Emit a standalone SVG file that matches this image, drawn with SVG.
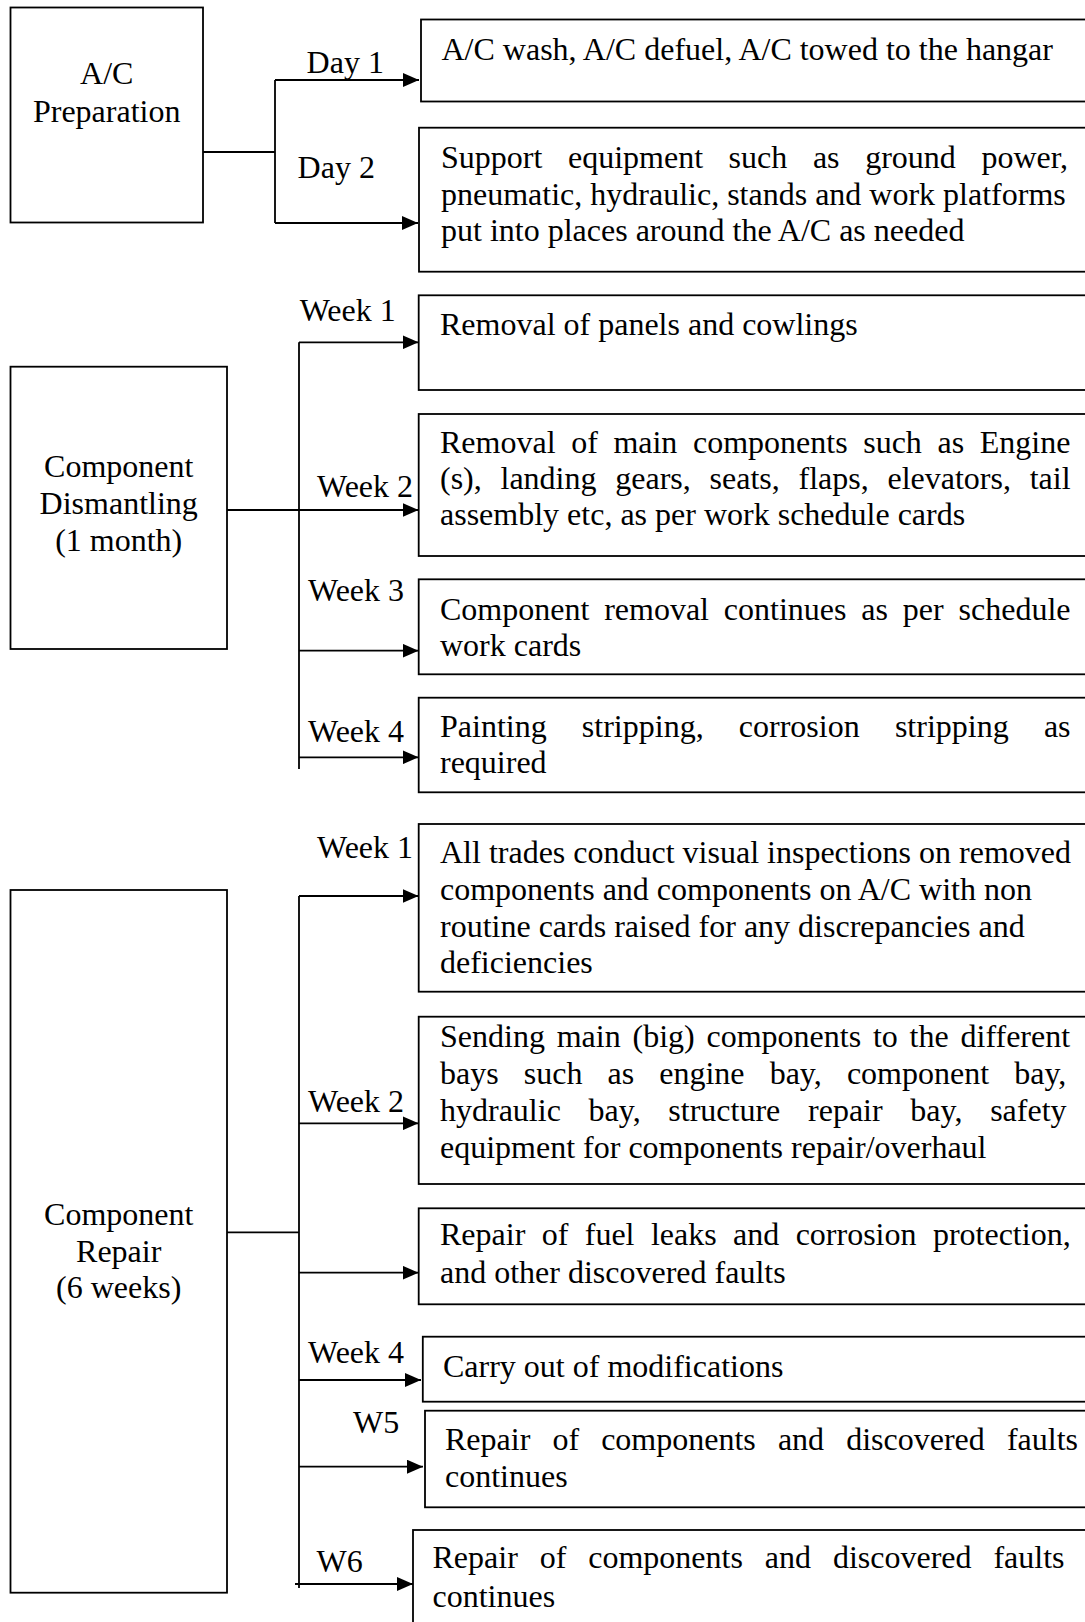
<svg xmlns="http://www.w3.org/2000/svg" width="1085" height="1622" viewBox="0 0 1085 1622">
  <style>
    .box { fill: #fff; stroke: #000; stroke-width: 1.8; }
    .t { font-family: "Liberation Serif", "Times New Roman", serif; font-size: 32px; fill: #000; font-variant-ligatures: none; }
    .mid { text-anchor: middle; }
    .wire { fill: none; stroke: #000; stroke-width: 1.8; }
    .arr { fill: none; stroke: #000; stroke-width: 1.8; marker-end: url(#head); }
  </style>
  <defs>
    <marker id="head" markerUnits="userSpaceOnUse" markerWidth="16" markerHeight="14" refX="16" refY="7" orient="auto">
      <path d="M0,0 L16,7 L0,14 Z" fill="#000"/>
    </marker>
  </defs>
  <rect width="1085" height="1622" fill="#fff"/>

  <!-- connectors -->
  <g id="connectors">
    <!-- A/C preparation fan-out -->
    <path class="wire" d="M203,152 H275 M275,80 V223"/>
    <path class="arr" d="M275,80 H419"/>
    <path class="arr" d="M275,223 H418"/>
    <!-- component dismantling fan-out -->
    <path class="wire" d="M299,342.3 V769"/>
    <path class="arr" d="M227,510 H418.5"/>
    <path class="arr" d="M299,342.3 H418.5"/>
    <path class="arr" d="M299,650.7 H418.5"/>
    <path class="arr" d="M299,757.3 H418.5"/>
    <!-- component repair fan-out -->
    <path class="wire" d="M227,1232.3 H299 M299,896 V1588"/>
    <path class="arr" d="M299,896 H418.5"/>
    <path class="arr" d="M299,1123.3 H418.5"/>
    <path class="arr" d="M299,1272.7 H418.5"/>
    <path class="arr" d="M299,1380 H421"/>
    <path class="arr" d="M299,1466.7 H423"/>
    <path class="arr" d="M295,1584 H413"/>
  </g>

  <!-- phase labels on the branches -->
  <g id="labels" class="t">
    <text x="306.6" y="73">Day 1</text>
    <text x="297.6" y="178">Day 2</text>
    <text x="299.7" y="320.7">Week 1</text>
    <text x="317" y="496.7">Week 2</text>
    <text x="308" y="600.7">Week 3</text>
    <text x="308" y="741.7">Week 4</text>
    <text x="317" y="858.3">Week 1</text>
    <text x="308" y="1111.7">Week 2</text>
    <text x="308" y="1363.3">Week 4</text>
    <text x="353" y="1433.3">W5</text>
    <text x="316.5" y="1571.7">W6</text>
  </g>

  <!-- phase boxes -->
  <g id="ac-preparation">
    <rect class="box" x="10.5" y="7.5" width="192.5" height="215"/>
    <text class="t mid" x="106.7" y="84">A/C</text>
    <text class="t mid" x="106.7" y="121.5">Preparation</text>
  </g>
  <g id="component-dismantling">
    <rect class="box" x="10.5" y="366.7" width="216.5" height="282.3"/>
    <text class="t mid" x="118.7" y="477">Component</text>
    <text class="t mid" x="118.7" y="513.5">Dismantling</text>
    <text class="t mid" x="118.7" y="550.5">(1 month)</text>
  </g>
  <g id="component-repair">
    <rect class="box" x="10.5" y="890" width="216.5" height="702.7"/>
    <text class="t mid" x="118.7" y="1225">Component</text>
    <text class="t mid" x="118.7" y="1261.7">Repair</text>
    <text class="t mid" x="118.7" y="1298.3">(6 weeks)</text>
  </g>

  <!-- task boxes -->
  <g id="day1">
    <rect class="box" x="421" y="19.5" width="700" height="82"/>
    <text class="t" x="441.5" y="60">A/C wash, A/C defuel, A/C towed to the hangar</text>
  </g>
  <g id="day2">
    <rect class="box" x="419" y="127.7" width="700" height="144"/>
    <text class="t" x="441" y="168" style="word-spacing:17.6px">Support equipment such as ground power,</text>
    <text class="t" x="441" y="204.5">pneumatic, hydraulic, stands and work platforms</text>
    <text class="t" x="441" y="241">put into places around the A/C as needed</text>
  </g>

  <g id="dis-week1">
    <rect class="box" x="418.7" y="295.3" width="700" height="94.7"/>
    <text class="t" x="440" y="335">Removal of panels and cowlings</text>
  </g>
  <g id="dis-week2">
    <rect class="box" x="418.7" y="414" width="700" height="142"/>
    <text class="t" x="440" y="452.7" style="word-spacing:7.6px">Removal of main components such as Engine</text>
    <text class="t" x="440" y="488.8" style="word-spacing:10.75px">(s), landing gears, seats, flaps, elevators, tail</text>
    <text class="t" x="440" y="525">assembly etc, as per work schedule cards</text>
  </g>
  <g id="dis-week3">
    <rect class="box" x="418.7" y="579.3" width="700" height="95"/>
    <text class="t" x="440" y="620" style="word-spacing:6.84px">Component removal continues as per schedule</text>
    <text class="t" x="440" y="655.5">work cards</text>
  </g>
  <g id="dis-week4">
    <rect class="box" x="418.7" y="697.7" width="700" height="94.6"/>
    <text class="t" x="440" y="736.7" style="word-spacing:27.2px">Painting stripping, corrosion stripping as</text>
    <text class="t" x="440" y="772.7">required</text>
  </g>

  <g id="rep-week1">
    <rect class="box" x="418.7" y="824" width="700" height="167.7"/>
    <text class="t" x="440" y="863.3">All trades conduct visual inspections on removed</text>
    <text class="t" x="440" y="900">components and components on A/C with non</text>
    <text class="t" x="440" y="936.7">routine cards raised for any discrepancies and</text>
    <text class="t" x="440" y="972.7">deficiencies</text>
  </g>
  <g id="rep-week2">
    <rect class="box" x="418.7" y="1016.7" width="700" height="167.3"/>
    <text class="t" x="440" y="1046.7" style="word-spacing:3.8px">Sending main (big) components to the different</text>
    <text class="t" x="440" y="1084" style="word-spacing:17.1px">bays such as engine bay, component bay,</text>
    <text class="t" x="440" y="1121" style="word-spacing:19.7px">hydraulic bay, structure repair bay, safety</text>
    <text class="t" x="440" y="1158">equipment for components repair/overhaul</text>
  </g>
  <g id="rep-week3">
    <rect class="box" x="418.7" y="1208.3" width="700" height="96"/>
    <text class="t" x="440" y="1245" style="word-spacing:8.4px">Repair of fuel leaks and corrosion protection,</text>
    <text class="t" x="440" y="1282.5">and other discovered faults</text>
  </g>
  <g id="rep-week4">
    <rect class="box" x="422.8" y="1336.7" width="700" height="65"/>
    <text class="t" x="443" y="1376.7">Carry out of modifications</text>
  </g>
  <g id="rep-week5">
    <rect class="box" x="425" y="1410.7" width="700" height="96.6"/>
    <text class="t" x="445" y="1450" style="word-spacing:14.1px">Repair of components and discovered faults</text>
    <text class="t" x="445" y="1487.3">continues</text>
  </g>
  <g id="rep-week6">
    <rect class="box" x="413" y="1530" width="700" height="140"/>
    <text class="t" x="432.5" y="1568.3" style="word-spacing:13.9px">Repair of components and discovered faults</text>
    <text class="t" x="432.5" y="1606.7">continues</text>
  </g>
</svg>
